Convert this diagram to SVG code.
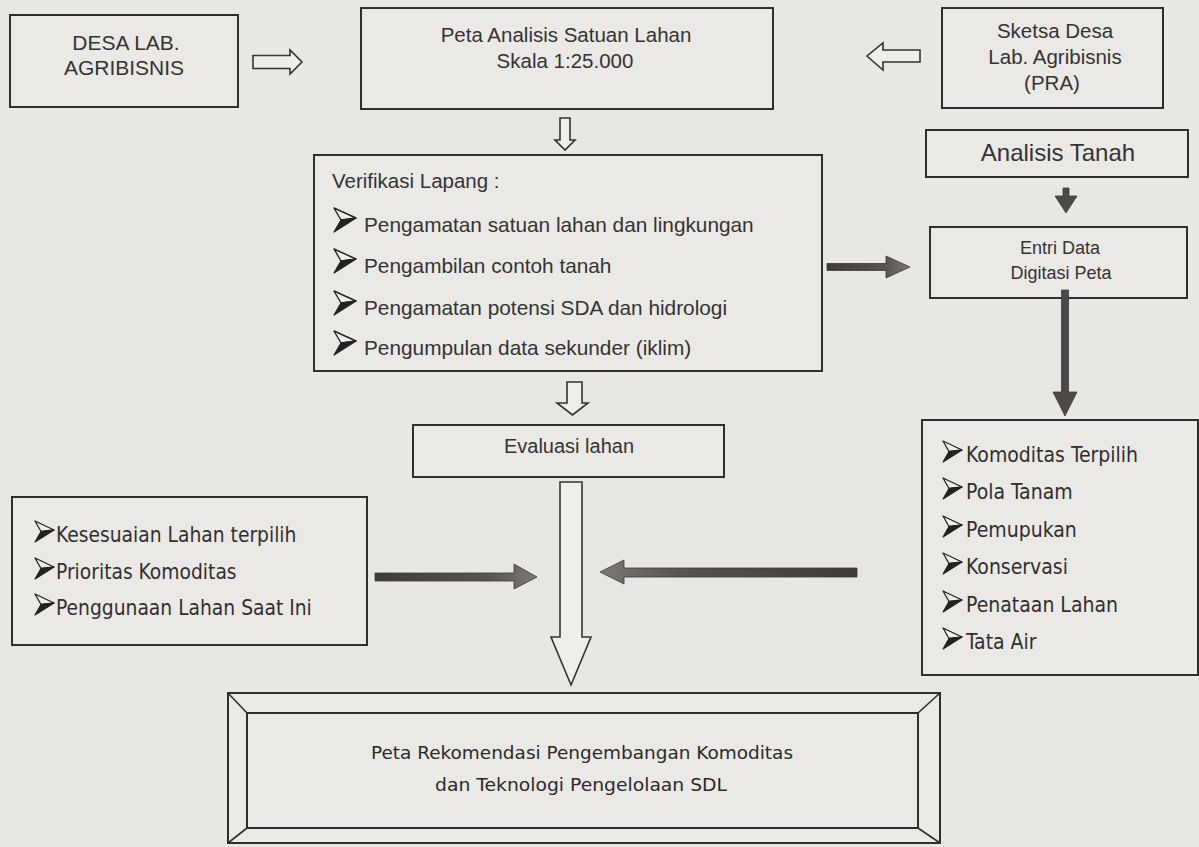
<svg xmlns="http://www.w3.org/2000/svg" width="1199" height="847" viewBox="0 0 1199 847">
<defs>
<style>
.box{fill:#ebe9e6;stroke:#2e2e2e;stroke-width:2}
.a{font-family:"Liberation Sans",Arial,sans-serif;fill:#333}
.t{font-family:"DejaVu Sans Condensed","DejaVu Sans",sans-serif;fill:#2f2f2f}
.c{font-family:"DejaVu Sans","Liberation Sans",sans-serif;fill:#2a2a2a}
.hol{fill:#f0eeeb;stroke:#333;stroke-width:1.6;stroke-linejoin:miter}
.dark{fill:#4a4a4a;stroke:#3a3a3a;stroke-width:0.8}
.gr{fill:url(#gR);stroke:#3a3a3a;stroke-width:0.8}
.gl{fill:url(#gL);stroke:#3a3a3a;stroke-width:0.8}
.mid{text-anchor:middle}
</style>
<linearGradient id="gR" x1="0" y1="0" x2="1" y2="0">
<stop offset="0" stop-color="#3c3c3c"/><stop offset="0.7" stop-color="#555"/><stop offset="1" stop-color="#7a7a7a"/>
</linearGradient>
<linearGradient id="gL" x1="1" y1="0" x2="0" y2="0">
<stop offset="0" stop-color="#3c3c3c"/><stop offset="0.7" stop-color="#555"/><stop offset="1" stop-color="#7a7a7a"/>
</linearGradient>
<g id="bul">
<path d="M0,0 L22,10 L7,12 Z" fill="#f0eeeb" stroke="#222" stroke-width="1.4" stroke-linejoin="round"/>
<path d="M7,12 L22,10 L0,24 Z" fill="#222" stroke="#222" stroke-width="1.2" stroke-linejoin="round"/>
</g>
<g id="bul2">
<path d="M0,0 L19,9 L6,10.5 Z" fill="#f0eeeb" stroke="#222" stroke-width="1.3" stroke-linejoin="round"/>
<path d="M6,10.5 L19,9 L0,21 Z" fill="#222" stroke="#222" stroke-width="1.1" stroke-linejoin="round"/>
</g>
</defs>
<rect x="0" y="0" width="1199" height="847" fill="#e9e7e3"/>

<g id="desa">
<rect class="box" x="10" y="15" width="228" height="92"/>
<text class="a mid" x="126" y="50" font-size="21">DESA LAB.</text>
<text class="a mid" x="124" y="75" font-size="21">AGRIBISNIS</text>
</g>

<g id="peta-analisis">
<rect class="box" x="361" y="8" width="412" height="101"/>
<text class="a mid" x="566" y="42" font-size="20.5">Peta Analisis Satuan Lahan</text>
<text class="a mid" x="565" y="68" font-size="20.5">Skala 1:25.000</text>
</g>

<g id="sketsa">
<rect class="box" x="942" y="8" width="221" height="100"/>
<text class="a mid" x="1055" y="38" font-size="20.5">Sketsa Desa</text>
<text class="a mid" x="1055" y="64" font-size="20.5">Lab. Agribisnis</text>
<text class="a mid" x="1052" y="90" font-size="20.5">(PRA)</text>
</g>

<g id="analisis-tanah">
<rect class="box" x="926" y="130" width="262" height="47"/>
<text class="a mid" x="1058" y="161" font-size="24">Analisis Tanah</text>
</g>

<g id="entri">
<rect class="box" x="930" y="227" width="257" height="71"/>
<text class="a mid" x="1060" y="254" font-size="18">Entri Data</text>
<text class="a mid" x="1061" y="279" font-size="18">Digitasi Peta</text>
</g>

<g id="verifikasi">
<rect class="box" x="314" y="155" width="508" height="216"/>
<text class="a" x="332" y="188" font-size="20.5">Verifikasi Lapang :</text>
<use href="#bul" x="334" y="208"/>
<text class="a" x="364" y="232" font-size="20.8">Pengamatan satuan lahan dan lingkungan</text>
<use href="#bul" x="334" y="249"/>
<text class="a" x="364" y="273" font-size="20.8">Pengambilan contoh tanah</text>
<use href="#bul" x="334" y="291"/>
<text class="a" x="364" y="315" font-size="20.8">Pengamatan potensi SDA dan hidrologi</text>
<use href="#bul" x="334" y="331"/>
<text class="a" x="364" y="355" font-size="20.8">Pengumpulan data sekunder (iklim)</text>
</g>

<g id="evaluasi">
<rect class="box" x="413" y="425" width="311" height="52"/>
<text class="a mid" x="569" y="453" font-size="20">Evaluasi lahan</text>
</g>

<g id="kiri">
<rect class="box" x="12" y="497" width="355" height="148"/>
<use href="#bul2" x="35" y="521"/>
<text class="t" x="56" y="542" font-size="20.8">Kesesuaian Lahan terpilih</text>
<use href="#bul2" x="35" y="558"/>
<text class="t" x="56" y="579" font-size="20.8">Prioritas Komoditas</text>
<use href="#bul2" x="35" y="594"/>
<text class="t" x="56" y="615" font-size="20.8">Penggunaan Lahan Saat Ini</text>
</g>

<g id="kanan">
<rect class="box" x="922" y="420" width="276" height="255"/>
<use href="#bul2" x="943" y="441"/>
<text class="t" x="966" y="462" font-size="21">Komoditas Terpilih</text>
<use href="#bul2" x="943" y="478"/>
<text class="t" x="966" y="499" font-size="21">Pola Tanam</text>
<use href="#bul2" x="943" y="516"/>
<text class="t" x="966" y="537" font-size="21">Pemupukan</text>
<use href="#bul2" x="943" y="553"/>
<text class="t" x="966" y="574" font-size="21">Konservasi</text>
<use href="#bul2" x="943" y="591"/>
<text class="t" x="966" y="612" font-size="21">Penataan Lahan</text>
<use href="#bul2" x="943" y="628"/>
<text class="t" x="966" y="649" font-size="21">Tata Air</text>
</g>

<g id="rekomendasi">
<rect class="box" x="228" y="693" width="712" height="150"/>
<rect x="247" y="713" width="671" height="115" fill="none" stroke="#2e2e2e" stroke-width="2"/>
<path d="M228,693 L247,713 M940,693 L918,713 M228,843 L247,828 M940,843 L918,828" stroke="#2e2e2e" stroke-width="1.6" fill="none"/>
<text class="c mid" x="582" y="759" font-size="17.5" textLength="422" lengthAdjust="spacingAndGlyphs">Peta Rekomendasi Pengembangan Komoditas</text>
<text class="c mid" x="581" y="791" font-size="17.5" textLength="292" lengthAdjust="spacingAndGlyphs">dan Teknologi Pengelolaan SDL</text>
</g>

<g id="connectors">
<polygon class="hol" points="253,55.5 290,55.5 290,50 302,62 290,74 290,68.5 253,68.5"/>
<polygon class="hol" points="920,50 883,50 883,43 867,56 883,70 883,62 920,62"/>
<polygon class="hol" points="560,118 570,118 570,140 575,140 565,150 555,140 560,140"/>
<polygon class="dark" points="1063,188 1069,188 1069,196 1077,196 1066,213 1055,196 1063,196"/>
<polygon class="gr" points="827,263.5 886,263.5 886,256 910,267 886,278 886,270.5 827,270.5"/>
<polygon class="dark" points="1061.5,290 1068.5,290 1068.5,392 1077,392 1065,416 1053,392 1061.5,392"/>
<polygon class="hol" points="567,382 582,382 582,403 588,403 572.5,415 557,403 567,403"/>
<polygon class="hol" points="560,482 582,482 582,637 591,637 571,685 551,637 560,637"/>
<polygon class="gr" points="375,573 514,573 514,564 537,577 514,589 514,581 375,581"/>
<polygon class="gl" points="857,568 624,568 624,560 600,572 624,584 624,577 857,577"/>
</g>
</svg>
